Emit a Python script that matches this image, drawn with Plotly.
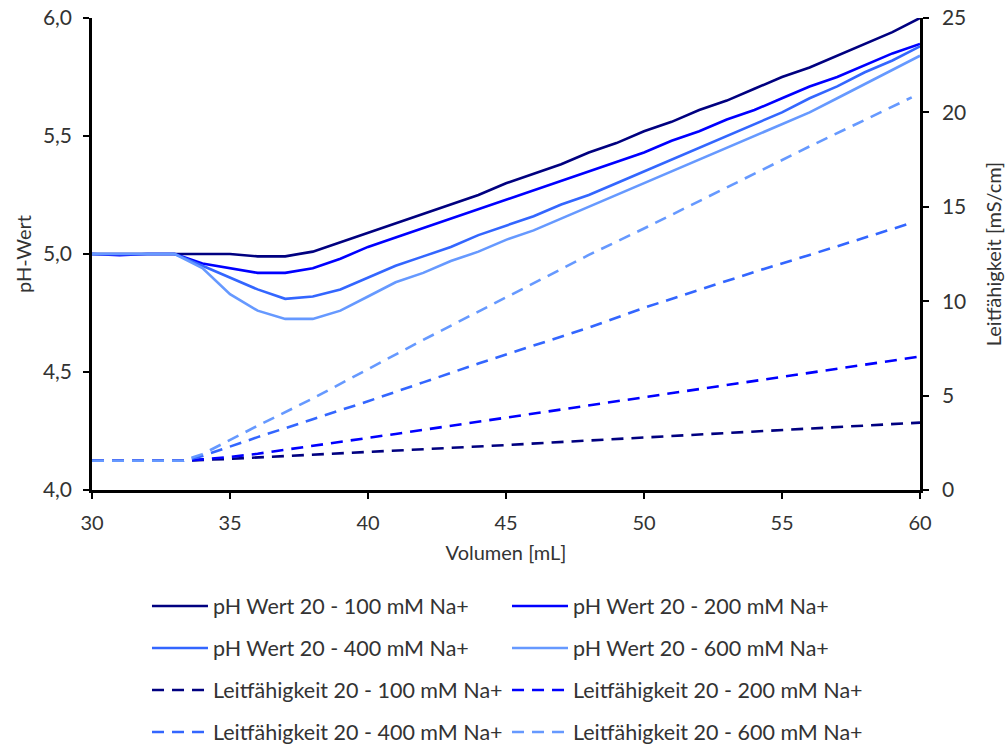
import plotly.graph_objects as go

# ---- data ----
volume_ph = [30, 31, 32, 33, 34, 35, 36, 37, 38, 39, 40, 41, 42, 43, 44, 45,
             46, 47, 48, 49, 50, 51, 52, 53, 54, 55, 56, 57, 58, 59, 60]
ph_100 = [5.00, 5.00, 5.00, 5.00, 5.00, 5.00, 4.99, 4.99, 5.01, 5.05, 5.09, 5.13,
          5.17, 5.21, 5.25, 5.30, 5.34, 5.38, 5.43, 5.47, 5.52, 5.56, 5.61, 5.65,
          5.70, 5.75, 5.79, 5.84, 5.89, 5.94, 6.00]
ph_200 = [5.00, 4.995, 5.00, 5.00, 4.96, 4.94, 4.92, 4.92, 4.94, 4.98, 5.03, 5.07,
          5.11, 5.15, 5.19, 5.23, 5.27, 5.31, 5.35, 5.39, 5.43, 5.48, 5.52, 5.57,
          5.61, 5.66, 5.71, 5.75, 5.80, 5.85, 5.89]
ph_400 = [5.00, 5.00, 5.00, 5.00, 4.95, 4.90, 4.85, 4.81, 4.82, 4.85, 4.90, 4.95,
          4.99, 5.03, 5.08, 5.12, 5.16, 5.21, 5.25, 5.30, 5.35, 5.40, 5.45, 5.50,
          5.55, 5.60, 5.66, 5.71, 5.77, 5.82, 5.88]
ph_600 = [5.00, 5.00, 5.00, 5.00, 4.94, 4.83, 4.76, 4.725, 4.725, 4.76, 4.82, 4.88,
          4.92, 4.97, 5.01, 5.06, 5.10, 5.15, 5.20, 5.25, 5.30, 5.35, 5.40, 5.45,
          5.50, 5.55, 5.60, 5.66, 5.72, 5.78, 5.84]

vol_c100 = [30, 33.3, 35, 37, 39, 41, 45, 50, 55, 60]
cond_100 = [1.55, 1.55, 1.65, 1.80, 1.93, 2.06, 2.38, 2.78, 3.18, 3.57]
vol_c200 = [30, 33.3, 34, 35, 36, 37, 38, 39, 40, 41, 43, 45, 47, 49, 51, 53, 55, 57, 59, 60]
cond_200 = [1.55, 1.55, 1.62, 1.75, 1.92, 2.12, 2.33, 2.55, 2.76, 2.97, 3.40, 3.83,
            4.26, 4.69, 5.12, 5.55, 5.99, 6.42, 6.86, 7.07]
vol_c400 = [30, 33.3, 34, 35, 36, 38, 40, 42, 44, 46, 48, 50, 52, 54, 56, 58, 59.7]
cond_400 = [1.55, 1.55, 1.8, 2.3, 2.8, 3.75, 4.7, 5.7, 6.7, 7.65, 8.6, 9.65, 10.6,
            11.55, 12.45, 13.35, 14.15]
vol_c600 = [30, 33.3, 34, 35, 36, 38, 40, 42, 44, 46, 48, 50, 52, 54, 56, 58, 59.7]
cond_600 = [1.55, 1.55, 1.9, 2.65, 3.4, 4.85, 6.4, 7.95, 9.45, 10.95, 12.45, 13.85,
            15.3, 16.75, 18.2, 19.6, 20.8]

names_ph = ["pH Wert 20 - 100 mM Na+", "pH Wert 20 - 200 mM Na+",
            "pH Wert 20 - 400 mM Na+", "pH Wert 20 - 600 mM Na+"]
names_cond = ["Leitfähigkeit 20 - 100 mM Na+", "Leitfähigkeit 20 - 200 mM Na+",
              "Leitfähigkeit 20 - 400 mM Na+", "Leitfähigkeit 20 - 600 mM Na+"]
colors = ["#000080", "#0000FF", "#3366FF", "#6699FF"]

FONT = "Lato"
TXT = "#333333"
LEG_X = [0.0664, 0.5012]
LEG_Y = [-0.2458, -0.3347, -0.4237, -0.5127]

fig = go.Figure()
ph_series = [ph_100, ph_200, ph_400, ph_600]
for i in range(4):
    fig.add_trace(go.Scatter(
        x=volume_ph, y=ph_series[i], mode="lines", name=names_ph[i],
        line=dict(color=colors[i], width=2.6), showlegend=True,
        legend=("legend" if i == 0 else f"legend{i + 1}")))

cond_x = [vol_c100, vol_c200, vol_c400, vol_c600]
cond_y = [cond_100, cond_200, cond_400, cond_600]
for i in range(4):
    fig.add_trace(go.Scatter(
        x=cond_x[i], y=cond_y[i], mode="lines", name=names_cond[i], yaxis="y2",
        line=dict(color=colors[i], width=2.6, dash="12px,8px"), showlegend=True,
        legend=f"legend{i + 5}"))

def leg(k):
    row, col = divmod(k, 2)
    return dict(orientation="h", x=LEG_X[col], xanchor="left", y=LEG_Y[row],
                yanchor="middle", itemwidth=56,
                font=dict(family=FONT, size=21.5, color=TXT),
                bgcolor="rgba(0,0,0,0)")

legends = {}
for k in range(8):
    key = "legend" if k == 0 else f"legend{k + 1}"
    legends[key] = leg(k)

fig.update_layout(
    width=1006, height=744,
    showlegend=True,
    margin=dict(l=92, r=86, t=18, b=254, autoexpand=False),
    paper_bgcolor="white", plot_bgcolor="white",
    separators=",.",
    font=dict(family=FONT, size=20, color=TXT),
    xaxis=dict(range=[30, 60], dtick=5, tick0=30, showgrid=False, zeroline=False,
               showline=True, linecolor="black", linewidth=2.5,
               ticks="outside", ticklen=6, tickwidth=2, tickcolor="black",
               ticklabelstandoff=7,
               tickfont=dict(family=FONT, size=20, color=TXT),
               title=dict(text="Volumen [mL]", font=dict(family=FONT, size=20, color=TXT),
                          standoff=14)),
    yaxis=dict(range=[4, 6], dtick=0.5, tick0=4, tickformat=".1f", showgrid=False,
               zeroline=False, showline=True, linecolor="black", linewidth=2.5,
               ticks="outside", ticklen=6, tickwidth=2, tickcolor="black",
               ticklabelstandoff=7,
               tickfont=dict(family=FONT, size=21, color=TXT),
               title=dict(text="pH-Wert", font=dict(family=FONT, size=20, color=TXT),
                          standoff=6)),
    yaxis2=dict(range=[0, 25], dtick=5, tick0=0, overlaying="y", side="right",
                showgrid=False, zeroline=False, showline=True, linecolor="black",
                linewidth=2.5, ticks="outside", ticklen=6, tickwidth=2,
                tickcolor="black", ticklabelstandoff=9,
                tickfont=dict(family=FONT, size=21, color=TXT),
                title=dict(text="Leitfähigkeit [mS/cm]",
                           font=dict(family=FONT, size=20, color=TXT), standoff=22)),
    **legends,
)

fig.write_html("out.html")
